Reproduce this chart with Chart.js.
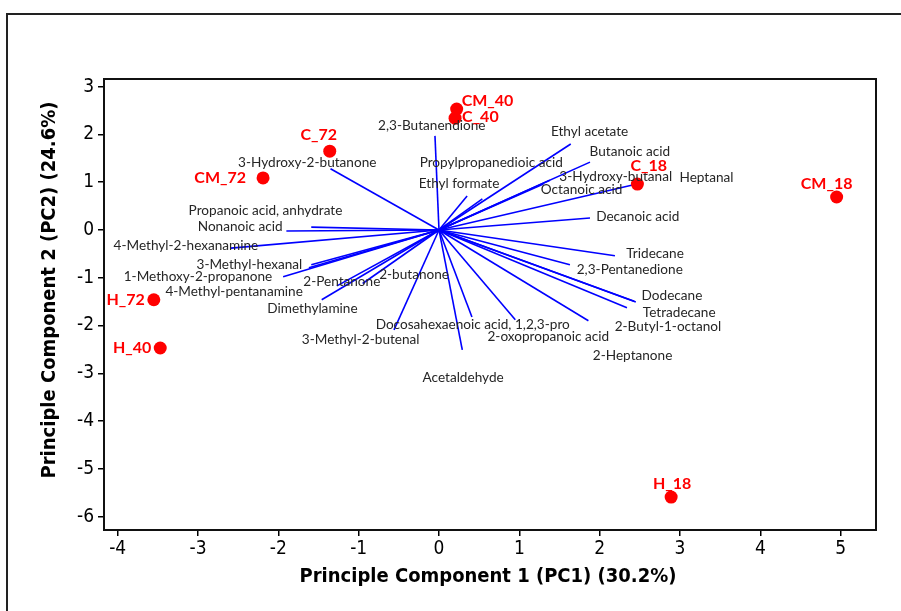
<!DOCTYPE html>
<html>
<head>
<meta charset="utf-8">
<script src="https://cdn.jsdelivr.net/npm/chart.js@4.4.1/dist/chart.umd.min.js"></script>
<style>
  html, body { margin: 0; padding: 0; background: #fff; }
  #wrap { width: 901px; height: 611px; position: relative; }
</style>
</head>
<body>
<div id="wrap"><canvas id="biplot" width="901" height="611"></canvas></div>
<script>
// scores (samples)
const scoreNames = ['CM_40', 'C_40', 'C_72', 'CM_72', 'C_18', 'CM_18', 'H_72', 'H_40', 'H_18'];
const scoreX = [0.22, 0.20, -1.36, -2.19, 2.47, 4.95, -3.55, -3.47, 2.89];
const scoreY = [2.53, 2.34, 1.65, 1.09, 0.96, 0.69, -1.46, -2.47, -5.59];

// loadings (variables)
const loadingNames = [
  '2,3-Butanendione', 'Ethyl acetate', 'Butanoic acid', 'Propylpropanedioic acid', 'Ethyl formate',
  '3-Hydroxy-butanal', 'Heptanal', 'Octanoic acid', 'Decanoic acid', 'Tridecane',
  '2,3-Pentanedione', 'Dodecane', 'Tetradecane', '2-Butyl-1-octanol', '2-Heptanone',
  '2-oxopropanoic acid', 'Docosahexaenoic acid, 1,2,3-pro', 'Acetaldehyde', '3-Methyl-2-butenal', 'Dimethylamine',
  '2-Pentanone', '2-butanone', '4-Methyl-pentanamine', '1-Methoxy-2-propanone', '3-Methyl-hexanal',
  '4-Methyl-2-hexanamine', 'Nonanoic acid', 'Propanoic acid, anhydrate', '3-Hydroxy-2-butanone'
];
const loadingX = [
  -0.05, 1.64, 1.88, 0.54, 0.35,
  1.38, 2.41, 1.30, 1.88, 2.19,
  1.63, 2.45, 2.43, 2.34, 1.86,
  0.95, 0.41, 0.29, -0.56, -1.46,
  -1.27, -0.95, -1.62, -1.94, -1.59,
  -2.59, -1.90, -1.59, -1.35
];
const loadingY = [
  1.97, 1.80, 1.42, 0.65, 0.71,
  1.04, 0.94, 0.96, 0.25, -0.54,
  -0.73, -1.51, -1.49, -1.63, -1.90,
  -1.88, -1.82, -2.51, -2.09, -1.46,
  -1.17, -1.12, -0.79, -0.98, -0.73,
  -0.38, -0.02, 0.06, 1.28
];
// where each variable name sits (data units, text centre)
const labelX = [
  -0.09, 1.875, 2.375, 0.65, 0.25,
  2.20, 3.33, 1.775, 2.475, 2.69,
  2.375, 2.90, 2.99, 2.85, 2.41,
  1.36, 0.42, 0.30, -0.975, -1.575,
  -1.21, -0.31, -2.55, -3.00, -2.36,
  -3.15, -2.475, -2.16, -1.64
];
const labelY = [
  2.18, 2.05, 1.63, 1.40, 0.98,
  1.11, 1.09, 0.84, 0.27, -0.50,
  -0.84, -1.38, -1.74, -2.03, -2.64,
  -2.24, -1.99, -3.10, -2.30, -1.65,
  -1.09, -0.94, -1.30, -0.98, -0.73,
  -0.33, 0.06, 0.40, 1.42
];

const xTicks = [-4, -3, -2, -1, 0, 1, 2, 3, 4, 5];
const yTicks = [-6, -5, -4, -3, -2, -1, 0, 1, 2, 3];

// label offsets for the sample names, in px: [dx, dy, align]
const scoreLabelOffsets = [
  [5, -8, 'left'], [7, -1, 'left'], [-11, -16, 'center'], [-17, 0, 'right'], [-7, -18, 'left'],
  [-10, -13, 'center'], [-9, 0, 'right'], [-9, 0, 'right'], [1, -13, 'center']
];

const loadingSets = loadingNames.map((name, i) => ({
  label: name,
  data: [{ x: 0, y: 0 }, { x: loadingX[i], y: loadingY[i] }],
  showLine: true,
  borderColor: '#0000ff',
  borderWidth: 1.6,
  pointRadius: 0,
  order: 2
}));

const scoreSet = {
  label: 'scores',
  data: scoreNames.map((n, i) => ({ x: scoreX[i], y: scoreY[i] })),
  backgroundColor: '#ff0000',
  borderColor: '#ff0000',
  pointRadius: 6.5,
  borderWidth: 0,
  order: 0,
  clip: false
};

const labelsPlugin = {
  id: 'biplotLabels',
  beforeDraw(chart) {
    const ctx = chart.ctx;
    ctx.save();
    ctx.fillStyle = '#fff';
    ctx.fillRect(0, 0, chart.width, chart.height);
    // outer frame
    ctx.strokeStyle = '#222';
    ctx.lineWidth = 2;
    ctx.beginPath();
    ctx.moveTo(7, chart.height);
    ctx.lineTo(7, 14);
    ctx.lineTo(chart.width, 14);
    ctx.stroke();
    ctx.restore();
  },
  afterDatasetsDraw(chart) {
    const ctx = chart.ctx;
    const xs = chart.scales.x, ys = chart.scales.y;
    const a = chart.chartArea;
    ctx.save();
    // plot box
    ctx.strokeStyle = '#111';
    ctx.lineWidth = 2;
    ctx.strokeRect(a.left, a.top, a.right - a.left, a.bottom - a.top);

    ctx.textBaseline = 'middle';
    ctx.font = '13.6px Lato';
    ctx.fillStyle = '#262626';
    ctx.textAlign = 'center';
    loadingNames.forEach((name, i) => {
      ctx.fillText(name, xs.getPixelForValue(labelX[i]), ys.getPixelForValue(labelY[i]));
    });

    ctx.font = 'bold 16px Lato';
    ctx.fillStyle = '#ff0000';
    scoreNames.forEach((name, i) => {
      const off = scoreLabelOffsets[i];
      ctx.textAlign = off[2];
      ctx.fillText(name, xs.getPixelForValue(scoreX[i]) + off[0], ys.getPixelForValue(scoreY[i]) + off[1]);
    });

    // axis titles
    ctx.fillStyle = '#000';
    ctx.font = 'bold 20px "Liberation Sans Narrow", "DejaVu Sans Condensed", sans-serif';
    ctx.textAlign = 'center';
    ctx.fillText('Principle Component 1 (PC1) (30.2%)', 488, 577);
    ctx.translate(50, 290);
    ctx.rotate(-Math.PI / 2);
    ctx.fillText('Principle Component 2 (PC2) (24.6%)', 0, 0);
    ctx.restore();
  }
};

const tickFont = { family: '"Liberation Sans Narrow", "DejaVu Sans Condensed", sans-serif', size: 19 };

new Chart(document.getElementById('biplot'), {
  type: 'scatter',
  data: { datasets: [scoreSet, ...loadingSets] },
  options: {
    responsive: false,
    animation: false,
    layout: { padding: { left: 0, top: 79, right: 25, bottom: 0 } },
    plugins: { legend: { display: false }, tooltip: { enabled: false } },
    scales: {
      x: {
        type: 'linear',
        min: -4.17,
        max: 5.44,
        afterBuildTicks: (s) => { s.ticks = xTicks.map(v => ({ value: v })); },
        afterFit: (s) => { s.height = 81; },
        grid: { drawOnChartArea: false, drawTicks: true, tickLength: 6, color: '#000', lineWidth: 1.5 },
        border: { display: true, color: '#000', width: 2 },
        ticks: { color: '#000', font: tickFont, padding: 2, maxRotation: 0 }
      },
      y: {
        type: 'linear',
        min: -6.28,
        max: 3.16,
        afterBuildTicks: (s) => { s.ticks = yTicks.map(v => ({ value: v })); },
        afterFit: (s) => { s.width = 104; },
        grid: { drawOnChartArea: false, drawTicks: true, tickLength: 6, color: '#000', lineWidth: 1.5 },
        border: { display: true, color: '#000', width: 2 },
        ticks: { color: '#000', font: tickFont, padding: 4 }
      }
    }
  },
  plugins: [labelsPlugin]
});
</script>
</body>
</html>
